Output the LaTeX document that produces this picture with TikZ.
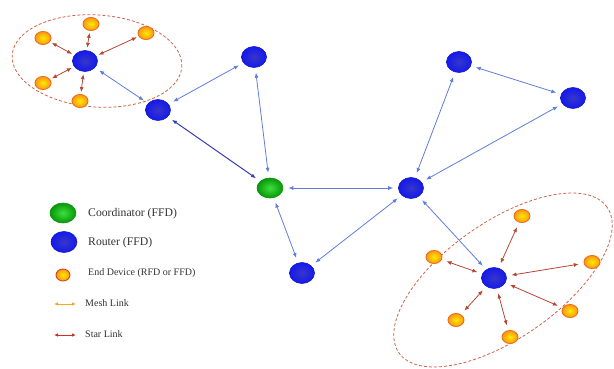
\documentclass[tikz,border=0pt]{standalone}
\usepackage{fontspec}
\setmainfont{Liberation Serif}
\usetikzlibrary{arrows.meta,shapes.geometric}
\definecolor{meshblue}{RGB}{95,125,220}
\definecolor{darkmesh}{RGB}{55,60,175}
\definecolor{starred}{RGB}{180,70,50}
\definecolor{dashcol}{RGB}{205,100,70}
\definecolor{routerin}{RGB}{55,55,200}
\definecolor{routerout}{RGB}{20,25,235}
\definecolor{routeredge}{RGB}{25,30,200}
\definecolor{greenin}{RGB}{60,225,60}
\definecolor{greenout}{RGB}{10,150,10}
\definecolor{devin}{RGB}{255,235,0}
\definecolor{devout}{RGB}{250,150,20}
\definecolor{devedge}{RGB}{235,110,30}
\definecolor{legmesh}{RGB}{240,170,40}
\definecolor{legstar}{RGB}{200,50,40}
\definecolor{txt}{RGB}{50,50,50}
\tikzset{
  router/.style={ellipse, minimum width=25pt, minimum height=21pt, inner sep=0pt,
    draw=routeredge, line width=0.6pt, inner color=routerin, outer color=routerout},
  coordnode/.style={ellipse, minimum width=26pt, minimum height=20pt, inner sep=0pt,
    draw=greenout, line width=0.6pt, inner color=greenin, outer color=greenout},
  enddev/.style={ellipse, minimum width=16pt, minimum height=13pt, inner sep=0pt,
    draw=devedge, line width=0.9pt, inner color=devin, outer color=devout},
  meshlink/.style={draw=meshblue, line width=0.8pt,
    {Latex[length=5pt,width=4pt]}-{Latex[length=5pt,width=4pt]}, shorten <=5pt, shorten >=5pt},
  darklink/.style={meshlink, draw=darkmesh, line width=1pt},
  starlink/.style={draw=starred, line width=0.8pt,
    {Latex[length=5pt,width=4pt]}-{Latex[length=5pt,width=4pt]}, shorten <=5pt, shorten >=5pt},
  tightstar/.style={starlink, shorten <=2.5pt, shorten >=2pt},
  region/.style={draw=dashcol, line width=0.8pt, dash pattern=on 3pt off 2pt},
  lbig/.style={anchor=west, inner sep=0pt, text=txt, font=\fontsize{11.7}{13}\selectfont},
  lsmall/.style={anchor=west, inner sep=0pt, text=txt, font=\fontsize{10}{12}\selectfont},
}
\begin{document}
\begin{tikzpicture}[x=1pt,y=-1pt]
\useasboundingbox (0,0) rectangle (614,369);
% dashed regions
\draw[region, rotate around={-4:(97,61)}] (97,61) ellipse [x radius=85pt, y radius=46pt];
\draw[region, rotate around={35:(503,280)}] (503,280) ellipse [x radius=127pt, y radius=58pt];
% routers and coordinator
\node[router] (R1) at (85,61) {};
\node[router] (R2) at (158,110) {};
\node[router] (R3) at (254,57) {};
\node[coordnode] (C) at (270,188) {};
\node[router] (R4) at (411,188) {};
\node[router] (R5) at (302,273) {};
\node[router] (R6) at (459,62) {};
\node[router] (R7) at (573,98) {};
\node[router] (R8) at (494,278) {};
% end devices
\node[enddev] (E1) at (43,38) {};
\node[enddev] (E2) at (91,24) {};
\node[enddev] (E3) at (146,33) {};
\node[enddev] (E4) at (43,83) {};
\node[enddev] (E5) at (80,101) {};
\node[enddev] (F1) at (522,216) {};
\node[enddev] (F2) at (434,257) {};
\node[enddev] (F3) at (592,262) {};
\node[enddev] (F4) at (570,311) {};
\node[enddev] (F5) at (456,320) {};
\node[enddev] (F6) at (510,337) {};
% mesh links
\draw[meshlink] (R1) -- (R2);
\draw[meshlink] (R2) -- (R3);
\draw[darklink] (R2) -- (C);
\draw[meshlink] (R3) -- (C);
\draw[meshlink] (C) -- (R4);
\draw[meshlink] (C) -- (R5);
\draw[meshlink] (R5) -- (R4);
\draw[meshlink] (R4) -- (R6);
\draw[meshlink] (R4) -- (R7);
\draw[meshlink] (R6) -- (R7);
\draw[meshlink] (R4) -- (R8);
% star links
\foreach \e in {E1,E2,E3,E4,E5} \draw[tightstar] (R1) -- (\e);
\foreach \e in {F1,F2,F3,F4,F5,F6} \draw[starlink] (R8) -- (\e);
% legend
\node[coordnode] (LC) at (63,213) {};
\node[lbig] (LCt) at (88,214) {Coordinator (FFD)};
\node[router, minimum width=26pt] (LR) at (64,242) {};
\node[lbig] (LRt) at (88,243) {Router (FFD)};
\node[enddev, minimum width=14pt, minimum height=12pt, draw=legstar!70!devedge] (LE) at (63,275) {};
\node[lsmall] (LEt) at (88,273) {End Device (RFD or FFD)};
\coordinate (M1) at (54,304);
\coordinate (M2) at (76,304);
\draw[draw=legmesh, line width=0.8pt, {Latex[length=4pt,width=3.5pt]}-{Latex[length=4pt,width=3.5pt]}] (M1) -- (M2);
\node[lsmall] (LMt) at (85,303) {Mesh Link};
\coordinate (S1) at (54,335);
\coordinate (S2) at (76,335);
\draw[draw=legstar, line width=0.8pt, {Latex[length=4pt,width=3.5pt]}-{Latex[length=4pt,width=3.5pt]}] (S1) -- (S2);
\node[lsmall] (LSt) at (85,334) {Star Link};
\end{tikzpicture}
\end{document}
